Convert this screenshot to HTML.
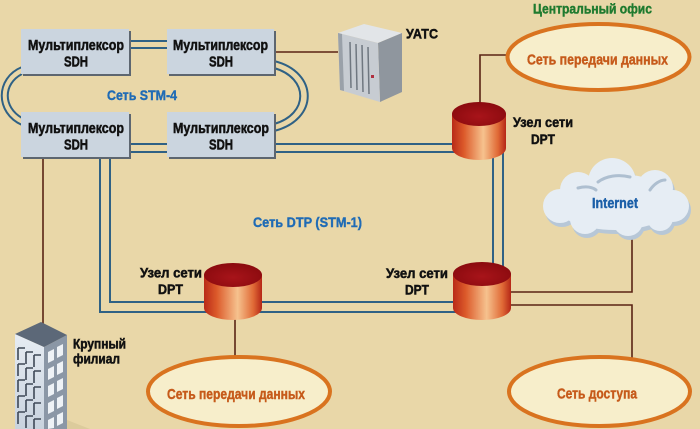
<!DOCTYPE html>
<html>
<head>
<meta charset="utf-8">
<style>
  html,body{margin:0;padding:0;background:#e9d7a8;}
  svg{display:block;}
  text{font-family:"Liberation Sans","DejaVu Sans",sans-serif;font-weight:bold;}
</style>
</head>
<body>
<svg width="700" height="429" viewBox="0 0 700 429" xmlns="http://www.w3.org/2000/svg">
  <defs>
    <linearGradient id="cyl" x1="0" y1="0" x2="1" y2="0">
      <stop offset="0" stop-color="#b92a18"/>
      <stop offset="0.22" stop-color="#dc5a2a"/>
      <stop offset="0.58" stop-color="#f6c28e"/>
      <stop offset="0.85" stop-color="#e06a36"/>
      <stop offset="1" stop-color="#b52616"/>
    </linearGradient>
    <radialGradient id="cyltop" cx="0.5" cy="0.6" r="0.6">
      <stop offset="0" stop-color="#a8141a"/>
      <stop offset="1" stop-color="#8a0a0e"/>
    </radialGradient>
    <linearGradient id="bldL" x1="0" y1="0" x2="0" y2="1">
      <stop offset="0" stop-color="#e6ecf3"/>
      <stop offset="1" stop-color="#c9d3de"/>
    </linearGradient>
  </defs>

  <rect width="700" height="429" fill="#e9d7a8"/>

  <!-- STM-4 ring lines -->
  <g fill="none" stroke="#2f6185" stroke-width="2">
    <line x1="129" y1="41" x2="167" y2="41"/>
    <line x1="129" y1="48" x2="167" y2="48"/>
    <line x1="129" y1="144" x2="167" y2="144"/>
    <line x1="129" y1="152" x2="167" y2="152"/>
    <path d="M22 67 C -5 78, -5 113, 22 125"/>
    <path d="M22 74 C 3 84, 3 107, 22 118"/>
    <path d="M274 61 C 319 72, 319 120, 274 131"/>
    <path d="M274 68 C 309 78, 309 114, 274 124"/>
    <!-- DTP ring -->
    <path d="M274 144 H482"/>
    <path d="M274 152 H482"/>
    <path d="M493 140 V285"/>
    <path d="M503 140 V285"/>
    <path d="M100 157 V312 H475"/>
    <path d="M110 157 V302 H475"/>
  </g>

  <!-- brown connectors -->
  <g fill="none" stroke="#5a2414" stroke-width="1.6">
    <line x1="274" y1="52" x2="338" y2="52"/>
    <line x1="43" y1="157" x2="43" y2="326"/>
    <path d="M507 55 H480 V112"/>
    <line x1="235" y1="300" x2="235" y2="358"/>
    <path d="M505 292 H632 V232"/>
    <path d="M505 305 H632 V358"/>
  </g>

  <!-- SDH boxes -->
  <g>
    <rect x="23" y="31" width="108" height="45" fill="#5d6670"/>
    <rect x="21" y="29" width="108" height="45" fill="#cbd5df"/>
    <rect x="169" y="31" width="107" height="45" fill="#5d6670"/>
    <rect x="167" y="29" width="107" height="45" fill="#cbd5df"/>
    <rect x="23" y="114" width="108" height="45" fill="#5d6670"/>
    <rect x="21" y="112" width="108" height="45" fill="#cbd5df"/>
    <rect x="169" y="114" width="107" height="45" fill="#5d6670"/>
    <rect x="167" y="112" width="107" height="45" fill="#cbd5df"/>
  </g>
  <g fill="#111" stroke="#111" stroke-width="0.5" font-size="15">
    <text x="28" y="50" textLength="96" lengthAdjust="spacingAndGlyphs">Мультиплексор</text>
    <text x="64" y="66.5" textLength="24" lengthAdjust="spacingAndGlyphs">SDH</text>
    <text x="173" y="50" textLength="95" lengthAdjust="spacingAndGlyphs">Мультиплексор</text>
    <text x="209" y="66.5" textLength="24" lengthAdjust="spacingAndGlyphs">SDH</text>
    <text x="28" y="133" textLength="96" lengthAdjust="spacingAndGlyphs">Мультиплексор</text>
    <text x="64" y="149.5" textLength="24" lengthAdjust="spacingAndGlyphs">SDH</text>
    <text x="173" y="133" textLength="96" lengthAdjust="spacingAndGlyphs">Мультиплексор</text>
    <text x="209" y="149.5" textLength="24" lengthAdjust="spacingAndGlyphs">SDH</text>
  </g>

  <!-- UATS device -->
  <g>
    <polygon points="338,33 364,24 402,33 378,43" fill="#e2e5e8"/>
    <polygon points="378,43 402,33 402,92 380,102" fill="#8f969e"/>
    <polygon points="338,33 378,43 380,102 340,90" fill="#c7ccd2"/>
    <polygon points="338,33 342,34 344,91 340,90" fill="#9aa1a9"/>
    <g stroke="#6f7780" stroke-width="1.5">
      <line x1="350" y1="42" x2="351" y2="88"/>
      <line x1="356" y1="44" x2="357" y2="90"/>
      <line x1="362" y1="45" x2="363" y2="92"/>
      <line x1="368" y1="47" x2="369" y2="94"/>
    </g>
    <rect x="371" y="75" width="3" height="3" fill="#b03040"/>
  </g>
  <text x="406" y="38.5" font-size="14" fill="#111" stroke="#111" stroke-width="0.5" textLength="32" lengthAdjust="spacingAndGlyphs">УАТС</text>

  <!-- Central office label -->
  <text x="533" y="13.5" font-size="13.5" fill="#1e7a2e" stroke="#1e7a2e" stroke-width="0.4" textLength="119" lengthAdjust="spacingAndGlyphs">Центральный офис</text>

  <!-- ellipses -->
  <ellipse cx="598.5" cy="57" rx="91" ry="33" fill="#f7eecb" stroke="#d9731f" stroke-width="4"/>
  <text x="527" y="64.5" font-size="15" fill="#c65a1a" stroke="#c65a1a" stroke-width="0.4" textLength="141" lengthAdjust="spacingAndGlyphs">Сеть передачи данных</text>

  <ellipse cx="239" cy="391.5" rx="91" ry="34.5" fill="#f7eecb" stroke="#d9731f" stroke-width="4"/>
  <text x="167" y="399" font-size="15" fill="#c65a1a" stroke="#c65a1a" stroke-width="0.4" textLength="138" lengthAdjust="spacingAndGlyphs">Сеть передачи данных</text>

  <ellipse cx="599.5" cy="391.5" rx="90.5" ry="34.5" fill="#f7eecb" stroke="#d9731f" stroke-width="4"/>
  <text x="557" y="398.5" font-size="15" fill="#c65a1a" stroke="#c65a1a" stroke-width="0.4" textLength="80" lengthAdjust="spacingAndGlyphs">Сеть доступа</text>

  <!-- cloud -->
  <g fill="#b7c7d7" transform="translate(2,4)">
    <ellipse cx="615" cy="202" rx="62" ry="28"/>
    <circle cx="612" cy="182" r="24"/>
    <circle cx="578" cy="190" r="18"/>
    <circle cx="655" cy="188" r="18"/>
    <circle cx="560" cy="206" r="17"/>
    <circle cx="673" cy="206" r="16"/>
    <circle cx="585" cy="219" r="15"/>
    <circle cx="628" cy="221" r="15"/>
    <circle cx="660" cy="218" r="13"/>
  </g>
  <g fill="#e6edf4">
    <ellipse cx="615" cy="202" rx="62" ry="28"/>
    <circle cx="612" cy="182" r="24"/>
    <circle cx="578" cy="190" r="18"/>
    <circle cx="655" cy="188" r="18"/>
    <circle cx="560" cy="206" r="17"/>
    <circle cx="673" cy="206" r="16"/>
    <circle cx="585" cy="219" r="15"/>
    <circle cx="628" cy="221" r="15"/>
    <circle cx="660" cy="218" r="13"/>
  </g>
  <g fill="none" stroke="#aebfd0" stroke-width="3" stroke-linecap="round">
    <path d="M598 182 C 606 176, 618 174, 630 177"/>
    <path d="M578 188 C 586 186, 592 187, 596 190"/>
    <path d="M650 190 C 654 184, 660 180, 665 180"/>
  </g>
  <text x="592" y="208" font-size="14.5" fill="#1b5fa8" stroke="#1b5fa8" stroke-width="0.4" textLength="46" lengthAdjust="spacingAndGlyphs">Internet</text>

  <!-- Net labels -->
  <text x="107" y="100" font-size="13.5" fill="#1f6bb5" stroke="#1f6bb5" stroke-width="0.4" textLength="70" lengthAdjust="spacingAndGlyphs">Сеть STM-4</text>
  <text x="253" y="227" font-size="13.5" fill="#1f6bb5" stroke="#1f6bb5" stroke-width="0.4" textLength="109" lengthAdjust="spacingAndGlyphs">Сеть DTP (STM-1)</text>

  <!-- cylinders -->
  <g>
    <path d="M452 114 V148 A27 12 0 0 0 506 148 V114 Z" fill="url(#cyl)"/>
    <ellipse cx="479" cy="114" rx="27" ry="12" fill="url(#cyltop)"/>

    <path d="M204 275 V308 A29 12 0 0 0 262 308 V275 Z" fill="url(#cyl)"/>
    <ellipse cx="233" cy="275" rx="29" ry="12" fill="url(#cyltop)"/>

    <path d="M453 274 V308 A29 12 0 0 0 511 308 V274 Z" fill="url(#cyl)"/>
    <ellipse cx="482" cy="274" rx="29" ry="12" fill="url(#cyltop)"/>
  </g>
  <g fill="#111" stroke="#111" stroke-width="0.5" font-size="14">
    <text x="513" y="127" textLength="60" lengthAdjust="spacingAndGlyphs">Узел сети</text>
    <text x="531" y="144" textLength="24" lengthAdjust="spacingAndGlyphs">DPT</text>
    <text x="140" y="277.5" textLength="62" lengthAdjust="spacingAndGlyphs">Узел сети</text>
    <text x="158" y="294" textLength="25" lengthAdjust="spacingAndGlyphs">DPT</text>
    <text x="386" y="278" textLength="62" lengthAdjust="spacingAndGlyphs">Узел сети</text>
    <text x="405" y="294.5" textLength="24" lengthAdjust="spacingAndGlyphs">DPT</text>
  </g>

  <!-- building -->
  <g>
    <polygon points="67,420 90,429 67,429" fill="#dccb9c"/>
    <polygon points="15,334 44,347 44,429 15,429" fill="url(#bldL)"/>
    <polygon points="44,347 67,335 67,429 44,429" fill="#8b97a6"/>
    <polygon points="15,334 41,322 67,335 44,347" fill="#5c6878"/>
    <g fill="none" stroke="#3e4856" stroke-width="1.6">
      <path d="M18 348 V360 M18 348 H25 M26 352 V364 M26 352 H33 M34 355 V367 M34 355 H41"/>
      <path d="M18 364 V376 M18 364 H25 M26 368 V380 M26 368 H33 M34 371 V383 M34 371 H41"/>
      <path d="M18 380 V392 M18 380 H25 M26 384 V396 M26 384 H33 M34 387 V399 M34 387 H41"/>
      <path d="M18 396 V408 M18 396 H25 M26 400 V412 M26 400 H33 M34 403 V415 M34 403 H41"/>
      <path d="M18 412 V424 M18 412 H25 M26 416 V428 M26 416 H33 M34 419 V429 M34 419 H41"/>
    </g>
    <g fill="#eef2f6">
      <polygon points="48,352 54,349 54,360 48,363"/>
      <polygon points="57,347 63,344 63,355 57,358"/>
      <polygon points="48,369 54,366 54,377 48,380"/>
      <polygon points="57,364 63,361 63,372 57,375"/>
      <polygon points="48,386 54,383 54,394 48,397"/>
      <polygon points="57,381 63,378 63,389 57,392"/>
      <polygon points="48,403 54,400 54,411 48,414"/>
      <polygon points="57,398 63,395 63,406 57,409"/>
      <polygon points="48,420 54,417 54,428 48,429"/>
      <polygon points="57,415 63,412 63,423 57,426"/>
    </g>
  </g>
  <g fill="#111" stroke="#111" stroke-width="0.5" font-size="14">
    <text x="73" y="348.5" textLength="53" lengthAdjust="spacingAndGlyphs">Крупный</text>
    <text x="73" y="363.5" textLength="47" lengthAdjust="spacingAndGlyphs">филиал</text>
  </g>
</svg>
</body>
</html>
